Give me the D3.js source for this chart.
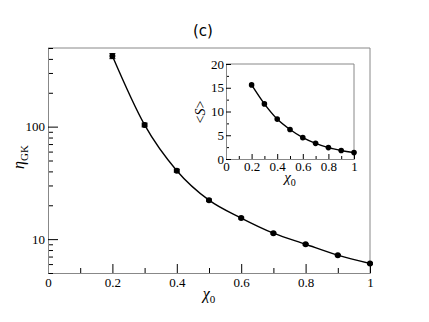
<!DOCTYPE html>
<html>
<head>
<meta charset="utf-8">
<script src="https://cdn.jsdelivr.net/npm/d3@7"></script>
<style>
  body { margin: 0; background: #fff; }
</style>
</head>
<body>
<div id="chart"></div>
<script>
// main panel data
var chi0 = [0.2, 0.3, 0.4, 0.5, 0.6, 0.7, 0.8, 0.9, 1.0];
var etaGK = [424, 103.5, 40.6, 22.2, 15.4, 11.3, 9.0, 7.2, 6.07];
var etaErr = [22, 4, 1.2, 0.5, 0.3, 0.2, 0.15, 0.1, 0.1];

// inset data
var meanS = [15.6, 11.6, 8.4, 6.2, 4.5, 3.3, 2.4, 1.8, 1.35];

// ticks
var xMajor = [0, 0.2, 0.4, 0.6, 0.8, 1];
var xMinor = [0.1, 0.3, 0.5, 0.7, 0.9];
var yMajor = [10, 100];
var yMinor = [5, 6, 7, 8, 9, 20, 30, 40, 50, 60, 70, 80, 90, 200, 300, 400, 500];
var insetYMajor = [0, 5, 10, 15, 20];
var insetYMinor = [2.5, 7.5, 12.5, 17.5];

var serif = "'Liberation Serif'";
var W = 429, H = 322;
var svg = d3.select("#chart").append("svg")
  .attr("width", W)
  .attr("height", H);

// restyle axis: serif labels, black ticks, gray spine
function styleAxis(g) {
  g.attr("font-family", null).attr("font-size", null);
  g.selectAll(".tick text")
    .attr("font-family", serif)
    .attr("font-size", 13)
    .attr("fill", "#000");
  g.selectAll(".tick line").attr("stroke", "#000");
  g.select(".domain").attr("stroke", "#888");
}

// main scales
var x = d3.scaleLinear().domain([0, 1]).range([48, 370]);
var y = d3.scaleLog().domain([5, 500]).range([273, 48]);

// frame top/right
svg.append("line").attr("x1", 48).attr("x2", 370).attr("y1", 48).attr("y2", 48).attr("stroke", "#888");
svg.append("line").attr("x1", 370).attr("x2", 370).attr("y1", 48).attr("y2", 273).attr("stroke", "#888");

var fmtX = d => d === 0 || d === 1 ? d3.format("d")(d) : d3.format(".1f")(d);

// main axes: minor first, then major with labels
svg.append("g")
  .attr("transform", "translate(0,273)")
  .call(d3.axisBottom(x).tickValues(xMinor).tickSize(-5).tickSizeOuter(0).tickFormat(""))
  .call(styleAxis);
svg.append("g")
  .attr("transform", "translate(0,273)")
  .call(d3.axisBottom(x).tickValues(xMajor).tickSize(-9).tickSizeOuter(0).tickPadding(5).tickFormat(fmtX))
  .call(styleAxis);

svg.append("g")
  .attr("transform", "translate(48,0)")
  .call(d3.axisLeft(y).tickValues(yMinor).tickSize(-5).tickSizeOuter(0).tickFormat(""))
  .call(styleAxis);
svg.append("g")
  .attr("transform", "translate(48,0)")
  .call(d3.axisLeft(y).tickValues(yMajor).tickSize(-10).tickSizeOuter(0).tickPadding(3)
    .tickFormat(d3.format("d")))
  .call(styleAxis);

// main line
var mainData = chi0.map((c, i) => ({x: c, y: etaGK[i], e: etaErr[i]}));
svg.append("path")
  .datum(mainData)
  .attr("fill", "none")
  .attr("stroke", "#000")
  .attr("stroke-width", 1.4)
  .attr("d", d3.line().x(d => x(d.x)).y(d => y(d.y)).curve(d3.curveMonotoneX));

// error bars
var eb = svg.append("g").attr("stroke", "#000").attr("stroke-width", 1);
mainData.forEach(function (d) {
  var cx = x(d.x), y0 = y(d.y - d.e), y1 = y(d.y + d.e);
  if (Math.abs(y0 - y1) < 1) return;
  eb.append("line").attr("x1", cx).attr("x2", cx).attr("y1", y0).attr("y2", y1);
  eb.append("line").attr("x1", cx - 3).attr("x2", cx + 3).attr("y1", y0).attr("y2", y0);
  eb.append("line").attr("x1", cx - 3).attr("x2", cx + 3).attr("y1", y1).attr("y2", y1);
});

svg.append("g").selectAll("circle")
  .data(mainData)
  .join("circle")
    .attr("cx", d => x(d.x))
    .attr("cy", d => y(d.y))
    .attr("r", 3)
    .attr("fill", "#000");

// axis labels
svg.append("text")
  .attr("x", 209).attr("y", 299)
  .attr("text-anchor", "middle")
  .attr("font-family", serif)
  .attr("font-size", 16)
  .attr("font-style", "italic")
  .html("χ<tspan dy='4' font-size='11' font-style='normal'>0</tspan>");

svg.append("text")
  .attr("transform", "translate(24,157) rotate(-90)")
  .attr("text-anchor", "middle")
  .attr("font-family", serif)
  .attr("font-size", 16)
  .html("<tspan font-style='italic'>η</tspan><tspan dy='4' font-size='11'>GK</tspan>");

// title
svg.append("text")
  .attr("x", 203).attr("y", 36)
  .attr("text-anchor", "middle")
  .attr("font-family", "'DejaVu Sans'")
  .attr("font-size", 15)
  .text("(c)");

// inset
var xi = d3.scaleLinear().domain([0, 1]).range([226, 354]);
var yi = d3.scaleLinear().domain([0, 20]).range([159, 64]);

svg.append("line").attr("x1", 226).attr("x2", 354).attr("y1", 64).attr("y2", 64).attr("stroke", "#888");
svg.append("line").attr("x1", 354).attr("x2", 354).attr("y1", 64).attr("y2", 159).attr("stroke", "#888");

svg.append("g")
  .attr("transform", "translate(0,159)")
  .call(d3.axisBottom(xi).tickValues(xMinor).tickSize(-3).tickSizeOuter(0).tickFormat(""))
  .call(styleAxis);
svg.append("g")
  .attr("transform", "translate(0,159)")
  .call(d3.axisBottom(xi).tickValues(xMajor).tickSize(-5).tickSizeOuter(0).tickPadding(3).tickFormat(fmtX))
  .call(styleAxis);
svg.append("g")
  .attr("transform", "translate(226,0)")
  .call(d3.axisLeft(yi).tickValues(insetYMinor).tickSize(-3).tickSizeOuter(0).tickFormat(""))
  .call(styleAxis);
svg.append("g")
  .attr("transform", "translate(226,0)")
  .call(d3.axisLeft(yi).tickValues(insetYMajor).tickSize(-5).tickSizeOuter(0).tickPadding(2))
  .call(styleAxis);

var insetData = chi0.map((c, i) => ({x: c, y: meanS[i]}));
svg.append("path")
  .datum(insetData)
  .attr("fill", "none")
  .attr("stroke", "#000")
  .attr("stroke-width", 1.4)
  .attr("d", d3.line().x(d => xi(d.x)).y(d => yi(d.y)).curve(d3.curveMonotoneX));
svg.append("g").selectAll("circle")
  .data(insetData)
  .join("circle")
    .attr("cx", d => xi(d.x))
    .attr("cy", d => yi(d.y))
    .attr("r", 2.8)
    .attr("fill", "#000");

svg.append("text")
  .attr("x", 290).attr("y", 182)
  .attr("text-anchor", "middle")
  .attr("font-family", serif)
  .attr("font-size", 15)
  .attr("font-style", "italic")
  .html("χ<tspan dy='4' font-size='10' font-style='normal'>0</tspan>");

svg.append("text")
  .attr("transform", "translate(205,112) rotate(-90)")
  .attr("text-anchor", "middle")
  .attr("font-family", serif)
  .attr("font-size", 14)
  .html("&lt;<tspan font-style='italic'>S</tspan>&gt;");
</script>
</body>
</html>
